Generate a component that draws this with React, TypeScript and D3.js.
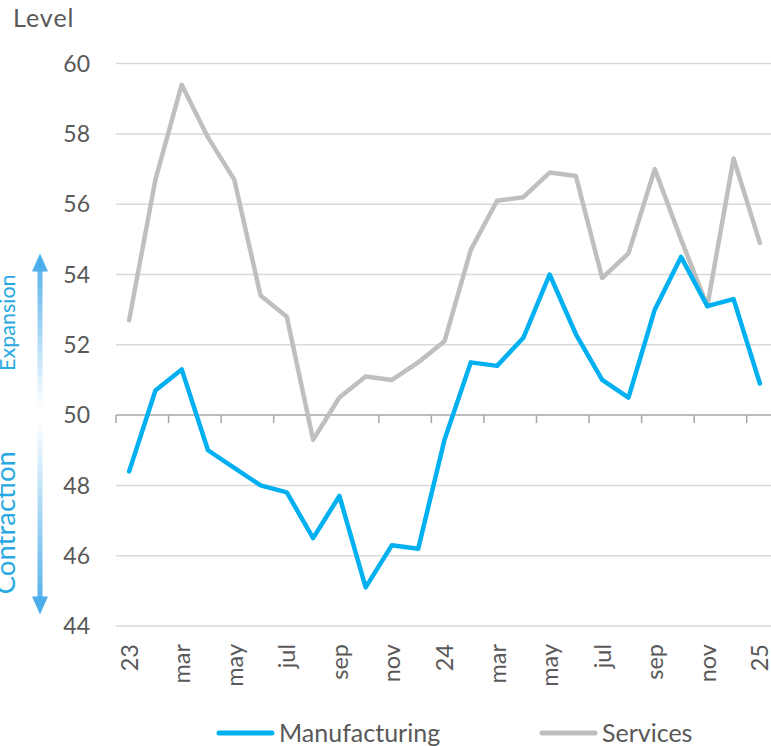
import { useRef, useEffect } from 'react';
import { select, scalePoint, scaleLinear, line, range } from 'd3';

const width = 771;
const height = 746;
const margin = { top: 63.6, right: -2, bottom: 120, left: 116 };

const months = ['23', 'feb', 'mar', 'apr', 'may', 'jun', 'jul', 'aug', 'sep', 'oct', 'nov', 'dec',
    '24', 'feb', 'mar', 'apr', 'may', 'jun', 'jul', 'aug', 'sep', 'oct', 'nov', 'dec', '25'];
const manufacturing = [48.4, 50.7, 51.3, 49.0, 48.5, 48.0, 47.8, 46.5, 47.7, 45.1, 46.3, 46.2,
    49.3, 51.5, 51.4, 52.2, 54.0, 52.3, 51.0, 50.5, 53.0, 54.5, 53.1, 53.3, 50.9];
const services = [52.7, 56.7, 59.4, 57.9, 56.7, 53.4, 52.8, 49.3, 50.5, 51.1, 51.0, 51.5,
    52.1, 54.7, 56.1, 56.2, 56.9, 56.8, 53.9, 54.6, 57.0, 55.0, 53.1, 57.3, 54.9];
const yTicks = [44, 46, 48, 50, 52, 54, 56, 58, 60];
const seriesNames = ['Manufacturing', 'Services'];
const seriesColors = ['#00b0f0', '#bfbfbf'];

const font = 'Lato, "Open Sans", sans-serif';
const textColor = '#595959';
const arrowColor = '#4badea';

const App = () => {
    const d3svg = useRef(null);

    useEffect(() => {
        if (!d3svg.current) return;
        const svg = select(d3svg.current);
        svg.selectAll('*').remove();

        const idx = range(months.length);
        const x = scalePoint<number>()
            .domain(idx)
            .range([margin.left, width - margin.right])
            .padding(0.5);
        const step = x.step();
        const y = scaleLinear().domain([44, 60]).range([height - margin.bottom, margin.top]);

        const defs = svg.append('defs');
        const gradUp = defs.append('linearGradient')
            .attr('id', 'gradUp')
            .attr('gradientUnits', 'userSpaceOnUse')
            .attr('x1', 0).attr('x2', 0)
            .attr('y1', y(50) - 10).attr('y2', y(54.6));
        gradUp.append('stop').attr('offset', 0).attr('stop-color', arrowColor).attr('stop-opacity', 0.02);
        gradUp.append('stop').attr('offset', 1).attr('stop-color', arrowColor).attr('stop-opacity', 1);
        const gradDown = defs.append('linearGradient')
            .attr('id', 'gradDown')
            .attr('gradientUnits', 'userSpaceOnUse')
            .attr('x1', 0).attr('x2', 0)
            .attr('y1', y(50) + 8).attr('y2', y(44.4));
        gradDown.append('stop').attr('offset', 0).attr('stop-color', arrowColor).attr('stop-opacity', 0.02);
        gradDown.append('stop').attr('offset', 1).attr('stop-color', arrowColor).attr('stop-opacity', 1);

        // gridlines
        svg.append('g')
            .selectAll('line')
            .data(yTicks.filter(d => d !== 50))
            .join('line')
            .attr('x1', margin.left)
            .attr('x2', width)
            .attr('y1', d => y(d))
            .attr('y2', d => y(d))
            .attr('stroke', '#d9d9d9')
            .attr('stroke-width', 1.5);

        // y tick labels
        svg.append('g')
            .selectAll('text')
            .data(yTicks)
            .join('text')
            .attr('x', 90)
            .attr('y', d => y(d))
            .attr('dy', '0.36em')
            .attr('text-anchor', 'end')
            .attr('font-family', font)
            .attr('font-size', 23)
            .attr('fill', textColor)
            .text(d => d);

        svg.append('text')
            .attr('x', 13)
            .attr('y', 27)
            .attr('font-family', font)
            .attr('font-size', 25)
            .attr('letter-spacing', 1)
            .attr('fill', textColor)
            .text('Level');

        // category axis at 50
        const axisY = y(50);
        svg.append('line')
            .attr('x1', margin.left).attr('x2', width)
            .attr('y1', axisY).attr('y2', axisY)
            .attr('stroke', '#a6a6a6')
            .attr('stroke-width', 1.5);
        svg.append('g')
            .selectAll('line')
            .data(idx.filter(i => i % 2 === 0))
            .join('line')
            .attr('x1', i => x(i)! - step / 2)
            .attr('x2', i => x(i)! - step / 2)
            .attr('y1', axisY)
            .attr('y2', axisY + 8)
            .attr('stroke', '#a6a6a6')
            .attr('stroke-width', 1.5);

        // x labels
        svg.append('g')
            .selectAll('text')
            .data(idx.filter(i => i % 2 === 0))
            .join('text')
            .attr('transform', i => `translate(${x(i)}, ${y(44) + 18}) rotate(-90)`)
            .attr('dy', '0.36em')
            .attr('text-anchor', 'end')
            .attr('font-family', font)
            .attr('font-size', 23.5)
            .attr('fill', textColor)
            .text(i => months[i]);

        // lines
        const lineGen = line<number>()
            .x((_, i) => x(i)!)
            .y(d => y(d));
        [services, manufacturing].forEach((s, k) => {
            svg.append('path')
                .datum(s)
                .attr('d', lineGen)
                .attr('fill', 'none')
                .attr('stroke', k === 0 ? seriesColors[1] : seriesColors[0])
                .attr('stroke-width', 4.5)
                .attr('stroke-linejoin', 'round')
                .attr('stroke-linecap', 'round');
        });

        // expansion / contraction arrows
        const ax = 40;
        svg.append('rect')
            .attr('x', ax - 2.5).attr('width', 5)
            .attr('y', y(54.4)).attr('height', (y(50) - 10) - y(54.4))
            .attr('fill', 'url(#gradUp)');
        svg.append('path')
            .attr('d', `M${ax},${y(54.6)} L${ax + 8},${y(54.6) + 18} L${ax - 8},${y(54.6) + 18} Z`)
            .attr('fill', arrowColor);
        svg.append('rect')
            .attr('x', ax - 2.5).attr('width', 5)
            .attr('y', y(50) + 8).attr('height', y(44.55) - (y(50) + 8))
            .attr('fill', 'url(#gradDown)');
        svg.append('path')
            .attr('d', `M${ax},${y(44.33)} L${ax + 8},${y(44.33) - 18} L${ax - 8},${y(44.33) - 18} Z`)
            .attr('fill', arrowColor);

        svg.append('text')
            .attr('transform', `translate(15, ${y(52.63)}) rotate(-90)`)
            .attr('text-anchor', 'middle')
            .attr('font-family', font)
            .attr('font-size', 21.5)
            .attr('fill', '#29a9e1')
            .text('Expansion');
        svg.append('text')
            .attr('transform', `translate(15, ${y(46.94)}) rotate(-90)`)
            .attr('text-anchor', 'middle')
            .attr('font-family', font)
            .attr('font-size', 27.5)
            .attr('fill', '#29a9e1')
            .text('Contraction');

        // legend
        const legend = svg.append('g')
            .selectAll('g')
            .data(seriesNames)
            .join('g')
            .attr('transform', (_, i) => `translate(${i === 0 ? 219 : 542}, 733)`);
        legend.append('line')
            .attr('x1', 0).attr('x2', 53)
            .attr('stroke', (_, i) => seriesColors[i])
            .attr('stroke-width', 5)
            .attr('stroke-linecap', 'round');
        legend.append('text')
            .attr('x', 60)
            .attr('y', 8.5)
            .attr('font-family', font)
            .attr('font-size', 25)
            .attr('fill', textColor)
            .text(d => d);
    }, []);

    return (
        <svg
            width={width}
            height={height}
            style={{ position: 'absolute', left: 0, top: 0, background: '#fff' }}
            ref={d3svg}
        ></svg>
    );
};

export default App;
